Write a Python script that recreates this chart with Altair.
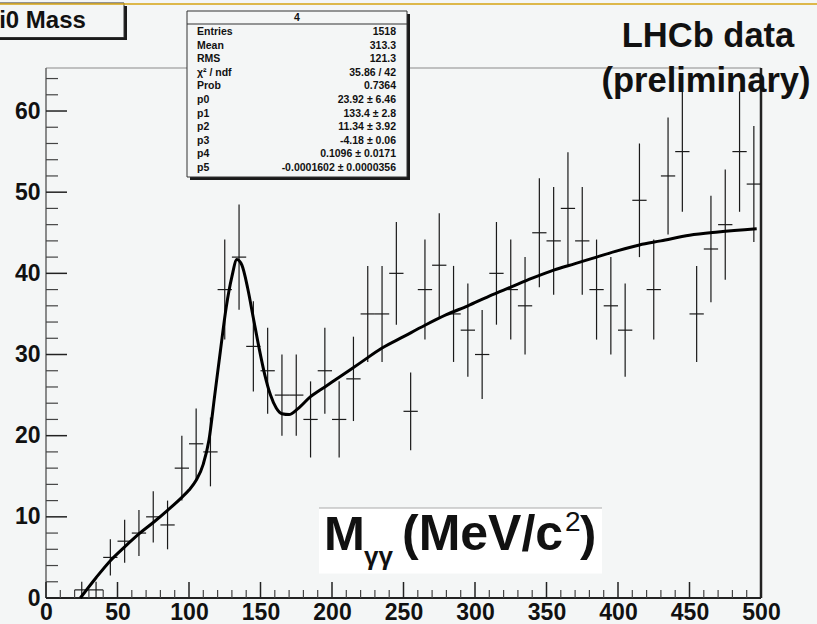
import altair as alt
import pandas as pd

# ---- histogram: 10 MeV/c^2 bins from 0 to 500 ----
bin_low = list(range(0, 500, 10))
counts = [0, 0, 1, 1, 5, 7, 8, 10, 9, 16,
          19, 18, 38, 42, 31, 28, 25, 25, 22, 28,
          22, 27, 35, 35, 40, 23, 38, 41, 35, 33,
          30, 40, 38, 36, 45, 44, 48, 44, 38, 36,
          33, 49, 38, 52, 55, 35, 43, 46, 55, 51]

# ---- fitted signal + background curve ----
fit_x = [24, 35, 45, 55, 65, 75, 85, 95, 100, 105, 110, 114, 118, 122, 126,
         130, 133.5, 137, 141, 145, 149, 153, 157, 161, 165, 170, 176, 185,
         195, 205, 220, 235, 250, 265, 280, 295, 310, 325, 340, 355, 370,
         385, 400, 415, 430, 450, 470, 497]
fit_y = [0, 2.5, 4.6, 6.3, 7.9, 9.3, 10.8, 12.4, 13.3, 14.5, 16.5, 19.5, 25,
         30.5, 35.8, 39.6, 41.7, 41, 38.2, 34.5, 30.8, 27.5, 25, 23.4, 22.7,
         22.6, 23.3, 24.8, 26, 27.2, 29, 30.8, 32.2, 33.6, 34.9, 36, 37.2,
         38.3, 39.4, 40.4, 41.2, 42, 42.8, 43.5, 44, 44.7, 45.1, 45.5]

# ---- axis ticks ----
x_major = list(range(0, 501, 50))
x_minor = [v for v in range(10, 500, 10) if v % 50]
y_major = list(range(0, 61, 10))
y_minor = [v for v in range(2, 65, 2) if v % 10]

# ---- statistics box ----
stat_names = ["Entries", "Mean", "RMS", "\u03c7\u00b2 / ndf", "Prob",
              "p0", "p1", "p2", "p3", "p4", "p5"]
stat_values = ["1518", "313.3", "121.3", "35.86 / 42", "0.7364",
               "23.92 \u00b1 6.46", "133.4 \u00b1 2.8", "11.34 \u00b1 3.92",
               "-4.18 \u00b1 0.06", "0.1096 \u00b1 0.0171",
               "-0.0001602 \u00b1 0.0000356"]

W, H = 715, 530          # frame size
X0, Y0 = 46, 68          # frame origin on the canvas
BG = "#f4f6f6"
INK = "#111111"
FONT = "Liberation Sans"

xs = alt.Scale(domain=[0, 500], nice=False, zero=False)
ys = alt.Scale(domain=[0, 65.3], nice=False, zero=False)
axis_common = dict(title="", grid=False, domain=False, ticks=False,
                   labelFont=FONT, labelFontWeight="bold", labelFontSize=23,
                   labelColor=INK, labelOverlap=False, labelBound=False)
xaxis = alt.Axis(values=x_major, labelPadding=3, labelFlush=False, **axis_common)
yaxis = alt.Axis(values=y_major, labelPadding=6, **axis_common)


def X(field):
    return alt.X(field, scale=xs, axis=xaxis)


def Y(field):
    return alt.Y(field, scale=ys, axis=yaxis)


one = pd.DataFrame({"k": [0]})


def seg(x1, y1, x2, y2, **kw):
    return alt.Chart(one).mark_rule(**kw).encode(
        x=alt.value(x1 - X0), x2=alt.value(x2 - X0),
        y=alt.value(y1 - Y0), y2=alt.value(y2 - Y0))


def box(x1, y1, x2, y2, **kw):
    return alt.Chart(one).mark_rect(**kw).encode(
        x=alt.value(x1 - X0), x2=alt.value(x2 - X0),
        y=alt.value(y1 - Y0), y2=alt.value(y2 - Y0))


def label(txt, x, y, **kw):
    kw.setdefault("font", FONT)
    kw.setdefault("color", INK)
    return alt.Chart(one).mark_text(**kw).encode(
        x=alt.value(x - X0), y=alt.value(y - Y0), text=alt.value(txt))


hist = pd.DataFrame({"lo": bin_low, "n": counts})
fit = pd.DataFrame({"m": fit_x, "f": fit_y})

# frame
frame = [
    seg(X0, Y0, X0 + W, Y0, color="#8a8a8a", strokeWidth=1),
    seg(X0, Y0, X0, Y0 + H, color="#666666", strokeWidth=1.5),
    seg(X0 + W, Y0, X0 + W, Y0 + H, color="#222222", strokeWidth=2.5),
    seg(X0, Y0 + H, X0 + W, Y0 + H, color="#222222", strokeWidth=2),
]

# inward ticks
ticks = [
    alt.Chart(pd.DataFrame({"v": y_major})).mark_rule(color="#222", strokeWidth=1.5)
    .encode(y=Y("v:Q"), x=alt.value(0), x2=alt.value(21)),
    alt.Chart(pd.DataFrame({"v": y_minor})).mark_rule(color="#444", strokeWidth=1.2)
    .encode(y=Y("v:Q"), x=alt.value(0), x2=alt.value(12)),
    alt.Chart(pd.DataFrame({"v": x_major})).mark_rule(color="#222", strokeWidth=1.5)
    .encode(x=X("v:Q"), y=alt.value(H), y2=alt.value(H - 16)),
    alt.Chart(pd.DataFrame({"v": x_minor})).mark_rule(color="#444", strokeWidth=1.2)
    .encode(x=X("v:Q"), y=alt.value(H), y2=alt.value(H - 8)),
]

bars = alt.Chart(hist).transform_filter("datum.n > 0").transform_calculate(
    c="datum.lo + 5", hi="datum.lo + 10",
    ylo="datum.n - sqrt(datum.n)", yhi="datum.n + sqrt(datum.n)")
vbars = bars.mark_rule(color="#1a1a1a", strokeWidth=1.2).encode(
    x=X("c:Q"), y=Y("ylo:Q"), y2="yhi:Q")
hbars = bars.mark_rule(color="#1a1a1a", strokeWidth=1.2).encode(
    x=X("lo:Q"), x2="hi:Q", y=Y("n:Q"))

curve = alt.Chart(fit).mark_line(color="#000", strokeWidth=3,
                                 interpolate="monotone").encode(
    x=X("m:Q"), y=Y("f:Q"))

# statistics box
sx1, sy1, sx2, sy2 = 187, 11, 407, 177
stats = [
    box(sx1 + 3, sy1 + 3, sx2 + 3, sy2 + 3, fill="#1a1a1a"),
    box(sx1, sy1, sx2, sy2, fill=BG, stroke="#333", strokeWidth=1),
    seg(sx1, 24, sx2, 24, color="#333", strokeWidth=1),
    label("4", (sx1 + sx2) / 2, 18, fontSize=10.5, fontWeight="bold",
          align="center", baseline="middle"),
    label(stat_names, 197, 32, fontSize=10.5, fontWeight="bold", align="left",
          baseline="middle", lineHeight=13.6),
    label(stat_values, 396, 32, fontSize=10.5, fontWeight="bold",
          align="right", baseline="middle", lineHeight=13.6),
]

# histogram title
title = [
    box(-2, 6, 127, 40, fill="#1a1a1a"),
    box(-5, 3, 124, 37.5, fill=BG, stroke="#333", strokeWidth=1),
    label("pi0 Mass", -15.5, 27.5, fontSize=24, fontWeight="bold",
          align="left", baseline="alphabetic"),
]

# experiment tag
tag = [
    label("LHCb data", 708, 47, fontSize=34.5, fontWeight="bold",
          align="center", baseline="alphabetic"),
    label("(preliminary)", 706, 92, fontSize=34.5, fontWeight="bold",
          align="center", baseline="alphabetic"),
]

# x-axis quantity label
xlab = [
    box(319, 508, 602, 573.5, fill="#ffffff"),
    seg(319, 508, 602, 508, color="#aaaaaa", strokeWidth=1),
    label("M", 324, 550, fontSize=49, fontWeight="bold", align="left",
          baseline="alphabetic"),
    label("\u03b3\u03b3", 364, 565, fontSize=26, fontWeight="bold",
          align="left", baseline="alphabetic"),
    label("(MeV/c", 402, 550, fontSize=50, fontWeight="bold", align="left",
          baseline="alphabetic"),
    label("2", 565, 531, fontSize=28, align="left", baseline="alphabetic"),
    label(")", 580, 550, fontSize=49, fontWeight="bold", align="left",
          baseline="alphabetic"),
]

top_line = [seg(0, 4, 817, 4, color="#d6a312", strokeWidth=1.5)]

chart = alt.layer(
    *frame, *ticks, vbars, hbars, curve, *stats, *title, *tag, *xlab, *top_line
).properties(
    width=W, height=H,
    autosize=alt.AutoSizeParams(type="none"),
    padding={"left": X0, "top": Y0, "right": 817 - X0 - W, "bottom": 624 - Y0 - H},
    background=BG,
).configure_view(strokeWidth=0, fill=BG)

chart.save("out.html", embed_options={"renderer": "svg", "actions": False})
